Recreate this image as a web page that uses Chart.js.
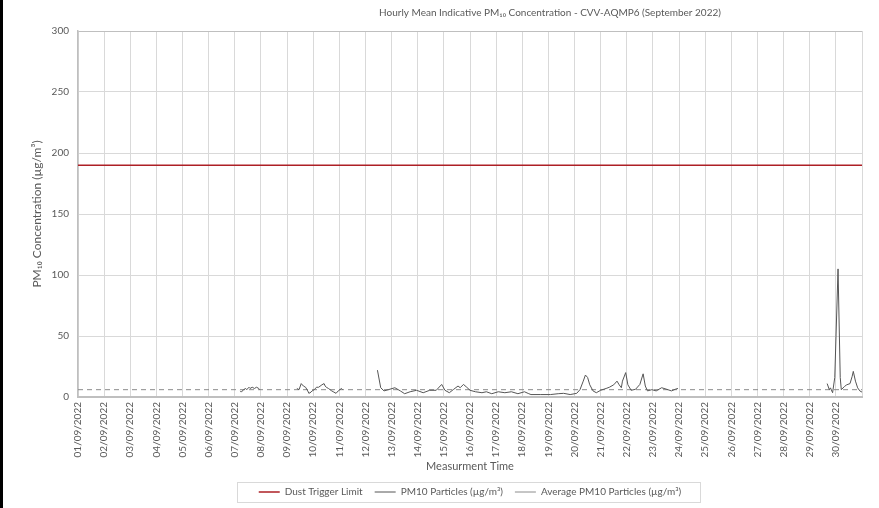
<!DOCTYPE html>
<html>
<head>
<meta charset="utf-8">
<script src="https://cdn.jsdelivr.net/npm/chart.js@4.4.0/dist/chart.umd.min.js"></script>
<style>
  html, body { margin: 0; padding: 0; background: #fff; }
  #wrap { width: 879px; height: 508px; box-sizing: border-box; border-left: 3px solid #000; position: relative; }
</style>
</head>
<body>
<div id="wrap"><canvas id="chart"></canvas></div>
<script>
// tick labels, one per day of September 2022
const dayLabels = [
  '01/09/2022', '02/09/2022', '03/09/2022', '04/09/2022', '05/09/2022', '06/09/2022',
  '07/09/2022', '08/09/2022', '09/09/2022', '10/09/2022', '11/09/2022', '12/09/2022',
  '13/09/2022', '14/09/2022', '15/09/2022', '16/09/2022', '17/09/2022', '18/09/2022',
  '19/09/2022', '20/09/2022', '21/09/2022', '22/09/2022', '23/09/2022', '24/09/2022',
  '25/09/2022', '26/09/2022', '27/09/2022', '28/09/2022', '29/09/2022', '30/09/2022'
];

const yTicks = [0, 50, 100, 150, 200, 250, 300];

// hours since 01/09 00:00, null value = no data
const pm10Hours = [
  149, 150, 152, 154, 155, 157, 158, 160, 162, 164, 166, 167, 168,
  201, 203, 205, 207, 209, 211, 212, 214, 215, 217, 219, 221, 224, 226, 227, 228, 230, 233, 235, 237, 239, 242, 243, 244,
  275, 278, 281, 285, 291, 296, 300, 305, 311, 317, 323, 329, 334, 337, 341, 345, 349, 351, 354, 357, 360, 365,
  371, 375, 380, 386, 392, 398, 404, 410, 414, 416, 425, 434, 441, 446, 452, 458, 461, 464, 466, 468, 470, 473,
  476, 480, 485, 488, 492, 495, 497, 499, 500, 503, 505, 508, 512, 516, 519, 521, 523, 527, 531, 536, 540, 545,
  549, 551, 552,
  688, 690, 691, 693, 695, 698, 700, 701, 704, 706, 709, 711, 712, 714, 716, 718, 720
];
const pm10Values = [
  5, 4, 6, 7, 6, 8, 7, 8, 7, 8, 7, 6, null,
  7, 6, 11, 9, 8, 5, 3, 4, 5, 6, 8, 8, 10, 11, 9, 8, 7, 5, 4, 3, 5, 7, 6, null,
  22, 7.6, 5, 6, 7.6, 5, 2.7, 4.3, 5.5, 3.5, 5.5, 5.5, 10.3, 5.5, 3.5, 6.3, 9, 7.6, 10.3, 8, 5.5, 4.3,
  3.5, 4.3, 2.7, 4.3, 3.5, 4.3, 2.7, 4.3, 2.7, 2, 2, 2, 2.7, 3, 2, 3, 6, 13, 18, 16, 10, 5,
  3.5, 5.5, 7, 8, 10, 13, 10, 7.6, 13, 20, 10, 5.5, 6.3, 10.3, 19, 9, 5, 6, 5, 7.6, 6.5, 5,
  6.5, 7, null,
  11, 6, 7.5, 3.5, 16, 105, 16, 6, 8.7, 10, 11, 17, 21, 13, 7.5, 5, 4
];

const dustTriggerLimit = 190;
const averagePm10 = 6;
const monthHours = 720;

const grey = '#595959';
const font = 'Lato, "Open Sans", sans-serif';

// title sits right of the canvas centre in the original
const titlePlugin = {
  id: 'offsetTitle',
  afterDraw(chart) {
    const ctx = chart.ctx;
    ctx.save();
    ctx.fillStyle = grey;
    ctx.font = '10px ' + font;
    ctx.textAlign = 'center';
    ctx.textBaseline = 'middle';
    ctx.fillText('Hourly Mean Indicative PM\u2081\u2080 Concentration - CVV-AQMP6 (September 2022)', 547, 13);
    ctx.restore();
  }
};

// thin frame around the legend
const legendFrame = {
  id: 'legendFrame',
  afterDraw(chart) {
    const boxes = chart.legend.legendHitBoxes;
    if (!boxes || !boxes.length) return;
    let l = Infinity, r = -Infinity, t = Infinity, b = -Infinity;
    boxes.forEach(h => {
      l = Math.min(l, h.left); r = Math.max(r, h.left + h.width);
      t = Math.min(t, h.top); b = Math.max(b, h.top + h.height);
    });
    const ctx = chart.ctx;
    ctx.save();
    ctx.strokeStyle = '#d9d9d9';
    ctx.lineWidth = 1;
    ctx.strokeRect(Math.round(l - 22) + 0.5, Math.round(t - 5) + 0.5, Math.round(r - l + 40), Math.round(b - t + 10));
    ctx.restore();
  }
};

new Chart(document.getElementById('chart'), {
  type: 'line',
  data: {
    datasets: [
      {
        label: 'Dust Trigger Limit',
        data: [{ x: 0, y: dustTriggerLimit }, { x: monthHours, y: dustTriggerLimit }],
        borderColor: '#ad1f25',
        borderWidth: 1.5
      },
      {
        label: 'PM10 Particles (\u00b5g/m\u00b3)',
        data: pm10Hours.map((h, i) => ({ x: h, y: pm10Values[i] })),
        borderColor: '#555555',
        borderWidth: 1
      },
      {
        label: 'Average PM10 Particles (\u00b5g/m\u00b3)',
        data: [{ x: 0, y: averagePm10 }, { x: monthHours, y: averagePm10 }],
        borderColor: '#8c8c8c',
        borderWidth: 1,
        borderDash: [5, 4]
      }
    ]
  },
  options: {
    responsive: true,
    maintainAspectRatio: false,
    animation: false,
    spanGaps: false,
    elements: { point: { radius: 0 }, line: { tension: 0 } },
    layout: { padding: { top: 31, right: 1, bottom: 1, left: 0 } },
    scales: {
      x: {
        type: 'linear',
        min: 0,
        max: monthHours,
        afterBuildTicks(scale) {
          scale.ticks = dayLabels.map((d, i) => ({ value: i * 24 })).concat([{ value: monthHours }]);
        },
        afterFit(scale) { scale.height = 78; },
        ticks: {
          autoSkip: false,
          minRotation: 90,
          maxRotation: 90,
          padding: 5,
          color: grey,
          font: { family: font, size: 10 },
          callback: (v) => dayLabels[v / 24] || ''
        },
        grid: { color: '#d9d9d9', drawTicks: false },
        border: { color: '#bfbfbf', width: 2 },
        title: {
          display: true,
          text: 'Measurment Time',
          color: grey,
          font: { family: font, size: 11 },
          padding: { top: 2, bottom: 2 }
        }
      },
      y: {
        min: 0,
        max: 300,
        afterBuildTicks(scale) {
          scale.ticks = yTicks.map(v => ({ value: v }));
        },
        afterFit(scale) { scale.width = 75; },
        ticks: {
          padding: 9,
          color: grey,
          font: { family: font, size: 10 }
        },
        grid: {
          drawTicks: false,
          color: (c) => (c.tick && c.tick.value === 300 ? '#bfbfbf' : '#d9d9d9')
        },
        border: { color: '#bfbfbf', width: 1.5 },
        title: {
          display: true,
          text: 'PM\u2081\u2080 Concentration (\u00b5g/m\u00b3)',
          color: grey,
          font: { family: font, size: 12 },
          padding: { top: 27, bottom: 0 }
        }
      }
    },
    plugins: {
      title: { display: false },
      tooltip: { enabled: false },
      legend: {
        position: 'bottom',
        fullSize: false,
        labels: {
          usePointStyle: true,
          pointStyle: 'line',
          pointStyleWidth: 21,
          boxHeight: 10,
          padding: 12,
          color: grey,
          font: { family: font, size: 10 }
        }
      }
    }
  },
  plugins: [titlePlugin, legendFrame]
});
</script>
</body>
</html>
